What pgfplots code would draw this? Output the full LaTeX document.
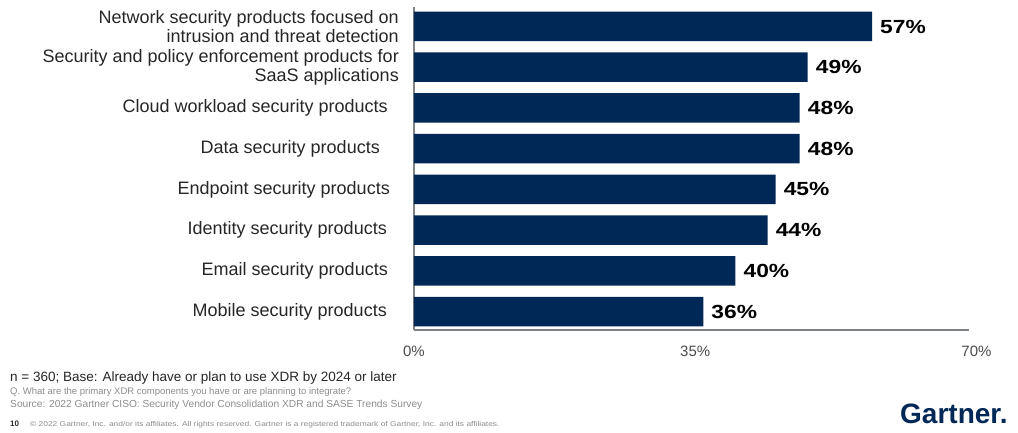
\documentclass[border=0pt]{standalone}
\usepackage{fontspec}
\setmainfont{Liberation Sans}
\newfontfamily\valfont[FakeStretch=1.2]{Liberation Sans}
\usepackage{pgfplots}
\pgfplotsset{compat=1.18}
\definecolor{navy}{HTML}{002856}
\definecolor{axgray}{HTML}{7F8385}
\definecolor{lbl}{HTML}{262626}
\definecolor{foot}{HTML}{8C8C8C}
\begin{document}
\begin{tikzpicture}[x=1pt,y=1pt]
\useasboundingbox (0pt,0pt) rectangle (1018pt,433pt);
\begin{axis}[
  at={(414pt,103pt)}, anchor=south west,
  scale only axis, width=562.5pt, height=323pt,
  xmin=0, xmax=70, ymin=-0.454, ymax=7.479,
  xbar, bar width=29.5pt,
  /pgf/number format/assume math mode=true,
  axis x line=bottom, axis y line=left,
  axis line style={-, draw=axgray, line width=2.8pt},
  every outer x axis line/.append style={-, shorten >=7pt},
  every outer y axis line/.append style={-},
  xtick={0,35,70}, xticklabels={0\%,35\%,70\%},
  ytick={0,1,2,3,4,5,6,7},
  yticklabels={
    {Mobile security products\hspace{12pt}},
    {Email security products\hspace{11pt}},
    {Identity security products\hspace{12pt}},
    {Endpoint security products\hspace{9pt}},
    {Data security products\hspace{19pt}},
    {Cloud workload security products\hspace{11pt}},
    {Security and policy enforcement products for\\SaaS applications},
    {Network security products focused on\\intrusion and threat detection}},
  major tick length=0pt,
  xticklabel style={font=\fontsize{15}{18}\selectfont, text=black!70, inner sep=0pt, anchor=north, yshift=-16pt},
  yticklabel style={font=\fontsize{18}{19}\selectfont, align=right, inner sep=0pt, anchor=east, xshift=-15pt, text=lbl},
  nodes near coords={\valfont\bfseries\pgfmathprintnumber{\pgfplotspointmeta}\%},
  nodes near coords style={anchor=west, inner sep=0pt, xshift=8pt, text=black, font=\valfont\bfseries\fontsize{19}{20}\selectfont},
  point meta=x,
]
\addplot[fill=navy, draw=none] coordinates {
  (36,0) (40,1) (44,2) (45,3) (48,4) (48,5) (49,6) (57,7)};
\end{axis}
\node[anchor=base west, inner sep=0pt, font=\fontsize{13.5}{15}\selectfont, text=lbl] at (10pt,51pt) {n = 360; Base: Already have or plan to use XDR by 2024 or later};
\node[anchor=base west, inner sep=0pt, font=\fontsize{9.5}{11}\selectfont, text=foot] at (10pt,38pt) {Q. What are the primary XDR components you have or are planning to integrate?};
\node[anchor=base west, inner sep=0pt, font=\fontsize{10.2}{11}\selectfont, text=foot] at (10pt,25pt) {Source: 2022 Gartner CISO: Security Vendor Consolidation XDR and SASE Trends Survey};
\node[anchor=base west, inner sep=0pt, font=\bfseries\fontsize{8}{9}\selectfont, text=lbl] at (10pt,6pt) {10};
\node[anchor=base west, inner sep=0pt, font=\valfont\fontsize{7}{8}\selectfont, text=foot] at (30pt,6pt) {\textcopyright{} 2022 Gartner, Inc. and/or its affiliates. All rights reserved. Gartner is a registered trademark of Gartner, Inc. and its affiliates.};
\node[anchor=base west, inner sep=0pt, font=\bfseries\fontsize{28}{30}\selectfont, text=navy] at (900pt,9pt) {Gartner.};
\end{tikzpicture}
\end{document}
